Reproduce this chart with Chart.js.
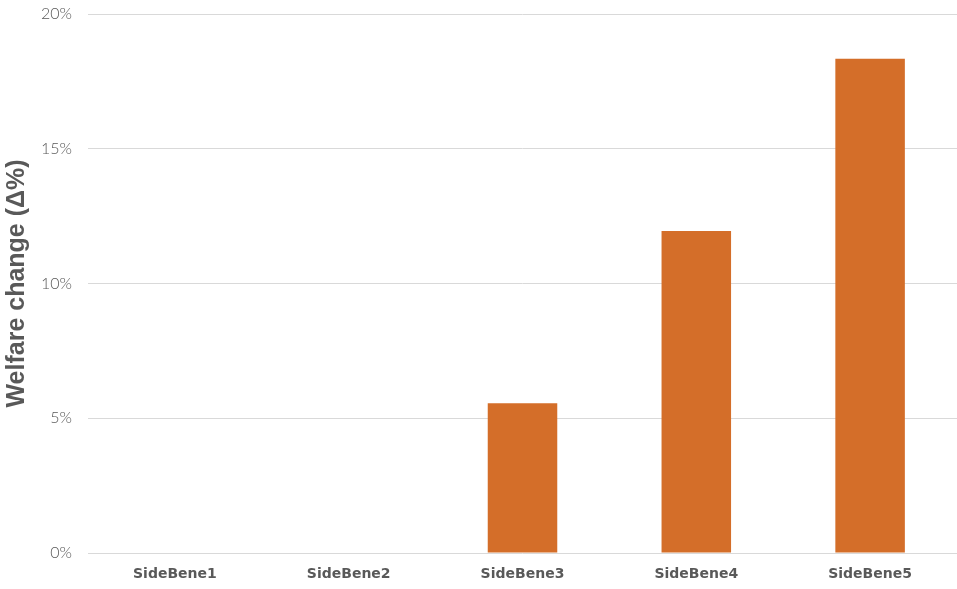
<!DOCTYPE html>
<html>
<head>
<meta charset="utf-8">
<script src="https://cdn.jsdelivr.net/npm/chart.js@4/dist/chart.umd.min.js"></script>
<style>
  html, body { margin: 0; padding: 0; background: #fff; }
  #wrap { width: 957px; height: 589px; }
</style>
</head>
<body>
<div id="wrap"><canvas id="welfareChart"></canvas></div>
<script>
const categories = ['SideBene1', 'SideBene2', 'SideBene3', 'SideBene4', 'SideBene5'];
const welfareChange = [0, 0, 5.56, 11.95, 18.34];
const yTicks = [0, 5, 10, 15, 20];

const ctx = document.getElementById('welfareChart').getContext('2d');
new Chart(ctx, {
  type: 'bar',
  data: {
    labels: categories,
    datasets: [{
      label: 'Welfare change',
      data: welfareChange,
      backgroundColor: '#D46E29',
      borderWidth: 0,
      categoryPercentage: 1,
      barPercentage: 0.4
    }]
  },
  options: {
    responsive: true,
    maintainAspectRatio: false,
    animation: false,
    layout: { padding: { top: 14, right: 0, bottom: 0, left: 2 } },
    scales: {
      x: {
        grid: { display: false, drawTicks: false },
        border: { display: false },
        afterFit: scale => { scale.height = 36; },
        ticks: {
          color: '#595959',
          font: { family: 'DejaVu Sans', size: 14, weight: 'bold' },
          padding: 13
        }
      },
      y: {
        min: 0,
        max: 20,
        afterBuildTicks: axis => { axis.ticks = yTicks.map(v => ({ value: v })); },
        afterFit: scale => {
          scale.width = 86;
          // keep the label padding from pushing the plot down
          scale.paddingTop = 0;
          scale.paddingBottom = 0;
        },
        grid: { color: '#D9D9D9', drawTicks: false, lineWidth: 1 },
        border: { display: false },
        ticks: {
          color: '#595959',
          font: { family: 'Lato', size: 16, weight: '300' },
          padding: 16,
          callback: v => v + '%'
        },
        title: {
          display: true,
          text: 'Welfare change (Δ%)',
          color: '#595959',
          font: { family: 'Liberation Sans', size: 25, weight: 'bold' },
          padding: { top: 0, bottom: 6 }
        }
      }
    },
    plugins: {
      legend: { display: false },
      tooltip: { enabled: false }
    }
  }
});
</script>
</body>
</html>
